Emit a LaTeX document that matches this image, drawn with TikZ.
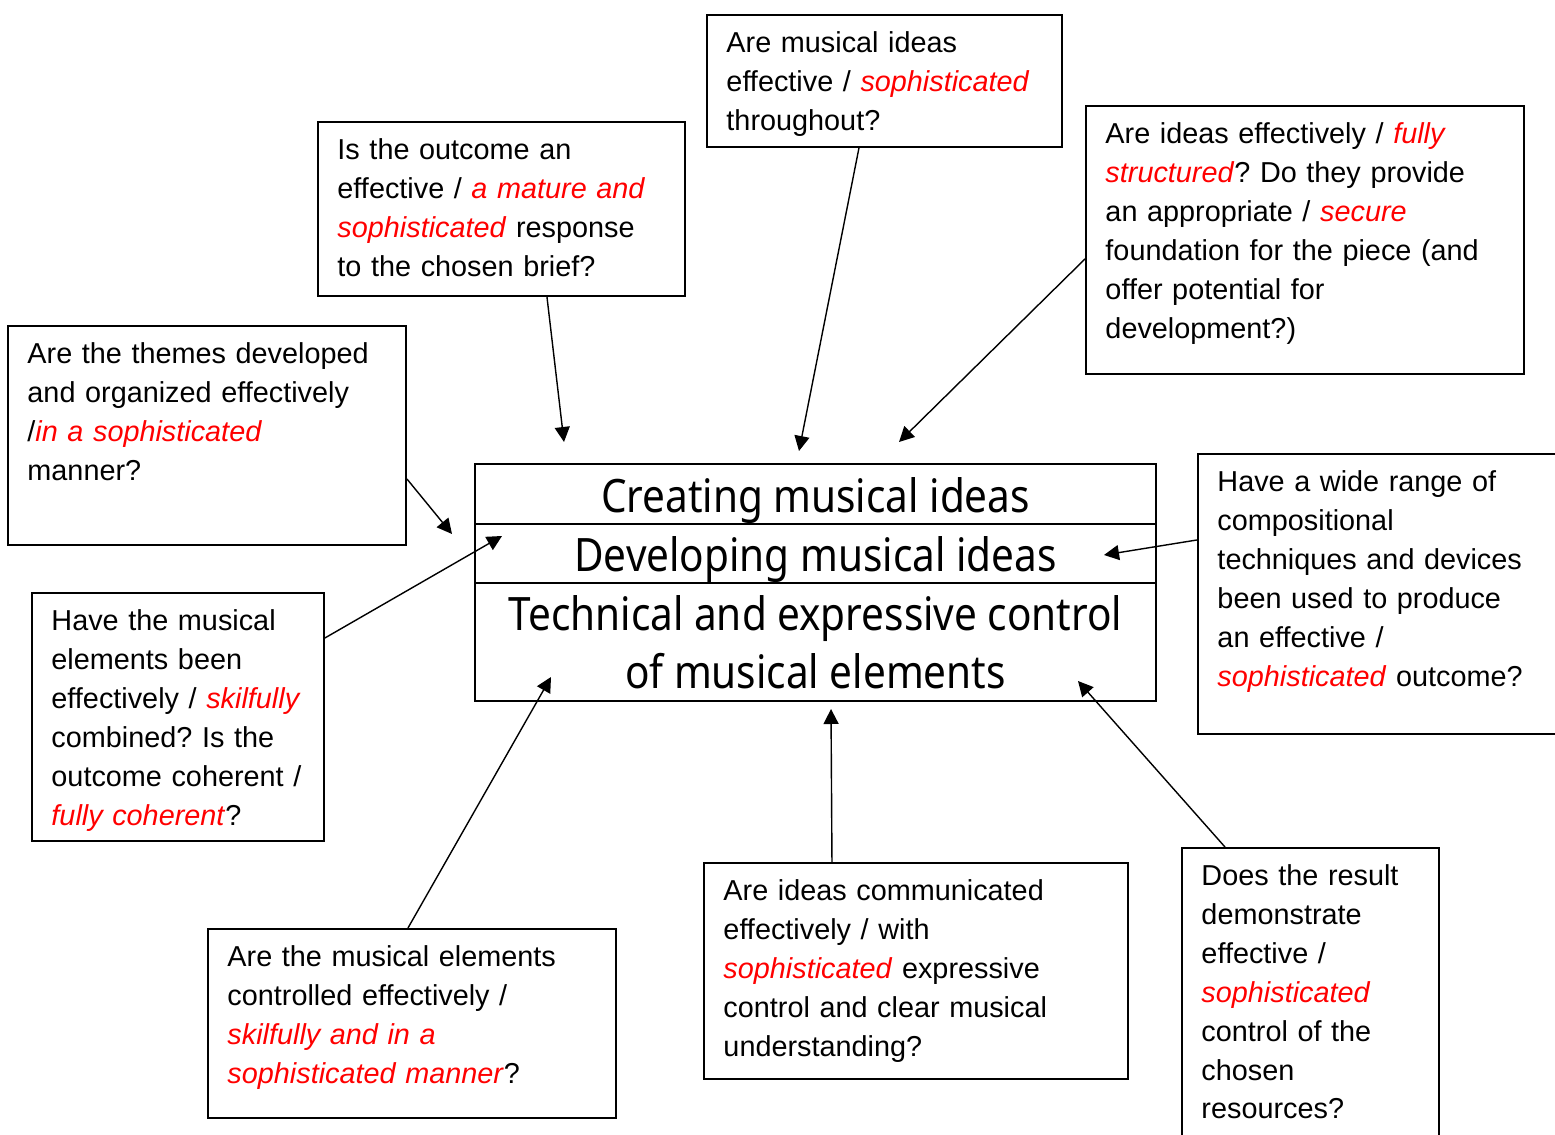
\documentclass[tikz,border=0pt]{standalone}
\usepackage{fontspec}
\setmainfont{Liberation Sans}
\newfontfamily\titlefont[FakeStretch=0.88]{Noto Sans}
\usetikzlibrary{arrows.meta}
\definecolor{higher}{RGB}{255,0,0}
\newcommand{\Higher}[1]{\textcolor{higher}{\textit{#1}}}
\frenchspacing
\hyphenpenalty=10000
\tikzstyle{question}=[draw, line width=1.1pt, anchor=north west, align=left, inner xsep=0.39cm, inner ysep=0pt, text height=0.76cm, font=\fontsize{16.4}{22.1}\selectfont]
\tikzstyle{strand}=[draw, line width=1.1pt, minimum width=13.62cm, inner sep=0pt, align=center, font=\titlefont\fontsize{26.2}{33}\selectfont]
\tikzstyle{oneline}=[text height=0.8cm, text depth=0.08cm]
\tikzstyle{link}=[-{Triangle[length=0.3cm,width=0.3cm]}, line width=0.8pt]

\begin{document}
\begin{tikzpicture}
  \useasboundingbox (0,0) rectangle (31.1,-22.7);
  \clip (0,0) rectangle (31.1,-22.7);
  %% Central strands
  \draw (16.31,-9.88) node[strand, oneline, minimum height=1.2cm] (C1) {Creating musical ideas};
  \draw (16.31,-11.07) node[strand, oneline, minimum height=1.18cm] (C2) {Developing musical ideas};
  \draw (16.31,-12.84) node[strand, minimum height=2.36cm] (C3) {Technical and expressive control\\of musical elements};

  %% Questions
  \draw (14.12,-0.28) node[question, text width=6.32cm, text depth=1.88cm] (Q1) {Are musical ideas\\effective / \Higher{sophisticated}\\throughout?};
  \draw (6.34,-2.42) node[question, text width=6.56cm, text depth=2.72cm] (Q2) {Is the outcome an\\effective / \Higher{a mature and}\\\Higher{sophisticated} response\\to the chosen brief?};
  \draw (21.70,-2.10) node[question, text width=7.98cm, text depth=4.60cm] (Q3) {Are ideas effectively / \Higher{fully}\\\Higher{structured}? Do they provide\\an appropriate / \Higher{secure}\\foundation for the piece (and\\offer potential for\\development?)};
  \draw (0.14,-6.50) node[question, text width=7.18cm, text depth=3.62cm] (Q4) {Are the themes developed\\and organized effectively\\/\Higher{in a sophisticated}\\manner?};
  \draw (23.94,-9.06) node[question, text width=6.68cm, text depth=4.84cm] (Q5) {Have a wide range of\\compositional\\techniques and devices\\been used to produce\\an effective /\\\Higher{sophisticated} outcome?};
  \draw (0.62,-11.84) node[question, text width=5.06cm, text depth=4.20cm] (Q6) {Have the musical\\elements been\\effectively / \Higher{skilfully}\\combined? Is the\\outcome coherent /\\\Higher{fully coherent}?};
  \draw (4.14,-18.56) node[question, text width=7.38cm, text depth=3.02cm] (Q7) {Are the musical elements\\controlled effectively /\\\Higher{skilfully and in a}\\\Higher{sophisticated manner}?};
  \draw (14.06,-17.24) node[question, text width=7.70cm, text depth=3.56cm] (Q8) {Are ideas communicated\\effectively / with\\\Higher{sophisticated} expressive\\control and clear musical\\understanding?};
  \draw (23.62,-16.94) node[question, text width=4.36cm, text depth=5.20cm] (Q9) {Does the result\\demonstrate\\effective /\\\Higher{sophisticated}\\control of the\\chosen\\resources?};

  %% Arrow tips
  \coordinate (T1) at (15.98,-9.02);
  \coordinate (T2) at (11.28,-8.84);
  \coordinate (T3) at (17.98,-8.84);
  \coordinate (T4) at (9.04,-10.68);
  \coordinate (T5) at (22.08,-11.10);
  \coordinate (T6) at (10.04,-10.72);
  \coordinate (T7) at (11.02,-13.54);
  \coordinate (T8) at (16.62,-14.18);
  \coordinate (T9) at (21.56,-13.62);

  \draw[link] ([xshift=-0.51cm]Q1.south) -- (T1);
  \draw[link] ([xshift=0.91cm]Q2.south) -- (T2);
  \draw[link] ([yshift=-0.38cm]Q3.west) -- (T3);
  \draw[link] ([yshift=-0.87cm]Q4.east) -- (T4);
  \draw[link] ([yshift=1.08cm]Q5.west) -- (T5);
  \draw[link] ([yshift=1.58cm]Q6.east) -- (T6);
  \draw[link] ([xshift=-0.08cm]Q7.north) -- (T7);
  \draw[link] ([xshift=-1.68cm]Q8.north) -- (T8);
  \draw[link] ([xshift=-1.71cm]Q9.north) -- (T9);
\end{tikzpicture}
\end{document}
